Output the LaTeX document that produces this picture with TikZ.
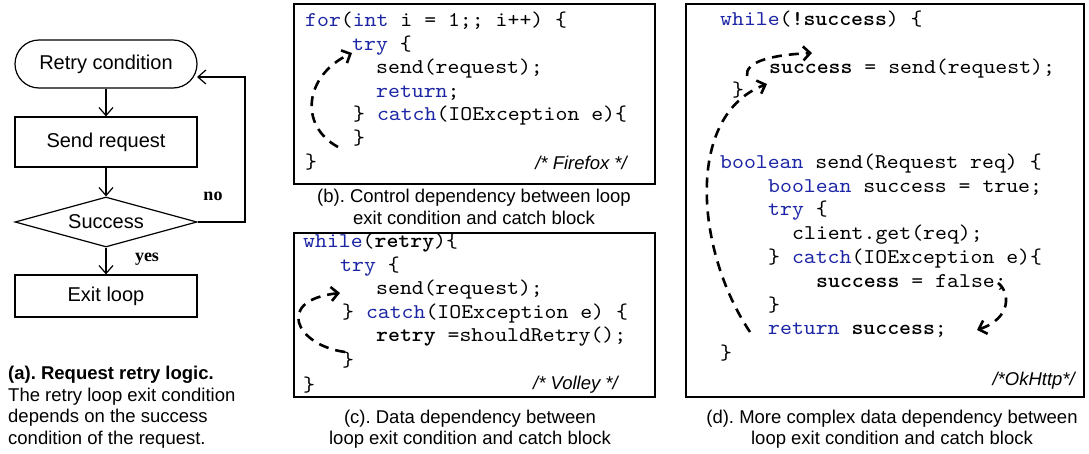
\documentclass[tikz,border=0pt]{standalone}
\usepackage{fontspec}
\setmainfont{Liberation Serif}
\setsansfont{Liberation Sans}
\setmonofont{lmmono10-regular.otf}[BoldFont=lmmonolt10-bold.otf,FakeStretch=1.08]
\usetikzlibrary{arrows.meta,shapes.geometric}

\definecolor{kwblue}{RGB}{28,38,165}
\newcommand{\kw}[1]{\textcolor{kwblue}{#1}}
\newcommand{\codefont}{\fontsize{21}{24}\selectfont\ttfamily}
\newcommand{\capfont}{\fontsize{18.5}{21.5}\selectfont\sffamily}

\tikzset{
  flow/.style={draw, line width=1.2pt, minimum width=182pt,
    font=\fontsize{20}{24}\selectfont\sffamily},
  flowarrow/.style={-{Straight Barb[length=8pt,width=14pt]}, line width=1.2pt},
  answer/.style={font=\fontsize{18}{20}\selectfont\bfseries, inner sep=0pt},
  codebox/.style={draw, line width=1.3pt},
  codeline/.style={anchor=mid west, inner sep=0pt, font=\codefont},
  tag/.style={anchor=mid east, inner sep=0pt,
    font=\fontsize{18.5}{20}\selectfont\sffamily\itshape},
  caption/.style={align=center, inner sep=0pt, font=\capfont},
  deparrow/.style={line width=2.6pt, dash pattern=on 10pt off 7pt,
    -{Straight Barb[length=7pt,width=14pt]}}
}

\begin{document}
\frenchspacing
\begin{tikzpicture}[x=1pt,y=-1pt]
    \useasboundingbox (0,0) rectangle (1089,453);

    % (a) retry loop
    \node[flow, rounded corners=24pt, minimum height=48pt] (retry) at (106,64) {Retry condition};
    \node[flow, minimum height=50pt] (send) at (106,142) {Send request};
    \node[flow, diamond, aspect=3.6, minimum height=50pt, inner sep=0pt] (succ) at (106,222) {Success};
    \node[flow, minimum height=42pt] (exit) at (106,296) {Exit loop};
    \draw[flowarrow] (retry) -- (send);
    \draw[flowarrow] (send) -- (succ);
    \draw[flowarrow] (succ) -- (exit);
    \coordinate (loopcorner) at (245,77);
    \coordinate (loopin) at (197,77);
    \draw[flowarrow] (succ.east) -| (loopcorner) -- (loopin);
    \node[answer] (no) at (213,196) {no};
    \node[answer] (yes) at (147,259) {yes};
    \node[anchor=north west, align=left, inner sep=0pt, font=\capfont] (capa) at (8,366)
        {\textbf{(a). Request retry logic.}\\The retry loop exit condition\\depends on the success\\condition of the request.};

    % (b) Firefox
    \draw[codebox] (294,4) rectangle (655,184);
    \node[codeline] (b1) at (305,24) {\kw{for}(\kw{int} i = 1;; i++) \{};
    \node[codeline] (b2) at (352,48) {\kw{try} \{};
    \node[codeline] (b3) at (376,71) {send(request);};
    \node[codeline] (b4) at (376,95) {\kw{return};};
    \node[codeline] (b5) at (353,118) {\} \kw{catch}(IOException e)\{};
    \node[codeline] (b6) at (353,142) {\}};
    \node[codeline] (b7) at (305,166) {\}};
    \node[tag] (ffx) at (627,167) {/* Firefox */};
    \coordinate (bfrom) at (338,147);
    \coordinate (bto) at (352,53);
    \draw[deparrow] (bfrom) .. controls (298,125) and (305,75) .. (bto);
    \node[caption] (capb) at (474,207) {(b). Control dependency between loop\\exit condition and catch block};

    % (c) Volley
    \draw[codebox] (294,233) rectangle (655,397);
    \node[codeline] (c1) at (303,245) {\kw{while}(\textbf{retry})\{};
    \node[codeline] (c2) at (340,269) {\kw{try} \{};
    \node[codeline] (c3) at (376,292) {send(request);};
    \node[codeline] (c4) at (342,316) {\} \kw{catch}(IOException e) \{};
    \node[codeline] (c5) at (376,339) {\textbf{retry} =shouldRetry();};
    \node[codeline] (c6) at (342,364) {\}};
    \node[codeline] (c7) at (303,389) {\}};
    \node[tag] (vly) at (618,387) {/* Volley */};
    \coordinate (cfrom) at (345,352);
    \coordinate (cto) at (340,293);
    \draw[deparrow] (cfrom) .. controls (295,345) and (275,300) .. (cto);
    \node[caption] (capc) at (470,429) {(c). Data dependency between\\loop exit condition and catch block};

    % (d) OkHttp
    \draw[codebox] (686,4) rectangle (1084,397);
    \node[codeline] (d1) at (720,23) {\kw{while}(\textbf{!success}) \{};
    \node[codeline] (d2) at (769,71) {\textbf{success} = send(request);};
    \node[codeline] (d3) at (732,94) {\}};
    \node[codeline] (d4) at (720,166) {\kw{boolean} send(Request req) \{};
    \node[codeline] (d5) at (768,190) {\kw{boolean} success = true;};
    \node[codeline] (d6) at (768,213) {\kw{try} \{};
    \node[codeline] (d7) at (792,237) {client.get(req);};
    \node[codeline] (d8) at (768,261) {\} \kw{catch}(IOException e)\{};
    \node[codeline] (d9) at (816,285) {\textbf{success} = false;};
    \node[codeline] (d10) at (768,309) {\}};
    \node[codeline] (d11) at (768,332) {\kw{return} \textbf{success};};
    \node[codeline] (d12) at (720,357) {\}};
    \node[tag] (okh) at (1075,383) {/*OkHttp*/};
    \coordinate (dfrom) at (750,332);
    \coordinate (dto) at (767,84);
    \draw[deparrow] (dfrom) .. controls (695,250) and (685,115) .. (dto);
    \coordinate (sfrom) at (747,76);
    \coordinate (sto) at (812,53);
    \draw[deparrow] (sfrom) .. controls (745,62) and (770,55) .. (sto);
    \coordinate (ffrom) at (998,283);
    \coordinate (fto) at (977,330);
    \draw[deparrow] (ffrom) .. controls (1010,292) and (1012,318) .. (fto);
    \node[caption] (capd) at (892,429) {(d). More complex data dependency between\\loop exit condition and catch block};
\end{tikzpicture}
\end{document}
